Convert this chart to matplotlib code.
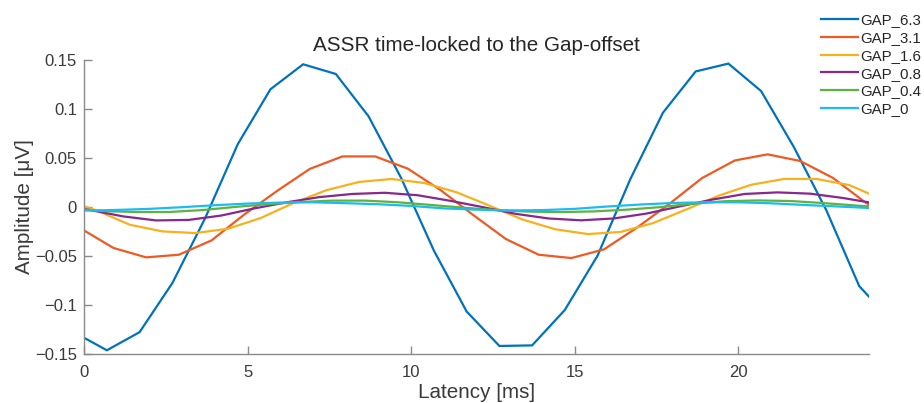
import numpy as np
import matplotlib
matplotlib.use("Agg")
import matplotlib.pyplot as plt

plt.rcParams['font.family'] = ['Liberation Sans', 'DejaVu Sans']

# ---- data (latency in ms, amplitude in µV) ----
labels = ["GAP_6.3", "GAP_3.1", "GAP_1.6", "GAP_0.8", "GAP_0.4", "GAP_0"]
colors = ["#0072BD", "#EE5A24", "#F7B11E", "#86288E", "#5DB246", "#1CBDEC"]

lat_63 = [0, 0.7, 1.7, 2.7, 3.7, 4.7, 5.7, 6.7, 7.7, 8.7, 9.7, 10.7, 11.7, 12.7,
          13.7, 14.7, 15.7, 16.7, 17.7, 18.7, 19.7, 20.7, 21.7, 22.7, 23.7, 24]
amp_63 = [-0.1337, -0.1465, -0.128, -0.078, -0.012, 0.0637, 0.1198, 0.1453, 0.1354,
          0.0922, 0.029, -0.045, -0.107, -0.1421, -0.1415, -0.1054, -0.050, 0.028,
          0.0959, 0.138, 0.146, 0.118, 0.061, -0.004, -0.081, -0.0918]

lat_31 = [0, 0.9, 1.9, 2.9, 3.9, 4.9, 5.9, 6.9, 7.9, 8.9, 9.9, 10.9, 11.9, 12.9,
          13.9, 14.9, 15.9, 16.9, 17.9, 18.9, 19.9, 20.9, 21.9, 22.9, 23.9, 24]
amp_31 = [-0.0242, -0.0421, -0.0517, -0.049, -0.0344, -0.008, 0.016, 0.0385, 0.0513,
          0.0513, 0.0388, 0.017, -0.0085, -0.033, -0.049, -0.0524, -0.0435, -0.0215,
          0.003, 0.0293, 0.0472, 0.0534, 0.0466, 0.0293, 0.004, 0.002]

lat_16 = [0, 0.4, 1.4, 2.4, 3.4, 4.4, 5.4, 6.4, 7.4, 8.4, 9.4, 10.4, 11.4, 12.4,
          13.4, 14.4, 15.4, 16.4, 17.4, 18.4, 19.4, 20.4, 21.4, 22.4, 23.4, 24]
amp_16 = [0.0005, -0.004, -0.0184, -0.0252, -0.0269, -0.0225, -0.0116, 0.0037, 0.0167,
          0.0252, 0.0283, 0.0242, 0.0146, 0.001, -0.013, -0.023, -0.0279, -0.0258,
          -0.0167, -0.003, 0.0112, 0.0224, 0.0283, 0.0283, 0.022, 0.0133]

lat_08 = [0, 0.2, 1.2, 2.2, 3.2, 4.2, 5.2, 6.2, 7.2, 8.2, 9.2, 10.2, 11.2, 12.2,
          13.2, 14.2, 15.2, 16.2, 17.2, 18.2, 19.2, 20.2, 21.2, 22.2, 23.2, 24]
amp_08 = [-0.0023, -0.0035, -0.0099, -0.014, -0.0135, -0.009, -0.0018, 0.0045, 0.0098,
          0.013, 0.0142, 0.0117, 0.006, -0.0005, -0.0073, -0.012, -0.0139, -0.012,
          -0.007, 0.0002, 0.0072, 0.013, 0.0146, 0.0133, 0.0089, 0.0044]

lat_04 = [0, 0.6, 1.6, 2.6, 3.6, 4.6, 5.6, 6.6, 7.6, 8.6, 9.6, 10.6, 11.6, 12.6,
          13.6, 14.6, 15.6, 16.6, 17.6, 18.6, 19.6, 20.6, 21.6, 22.6, 23.6, 24]
amp_04 = [-0.003, -0.0045, -0.0054, -0.0054, -0.0035, -0.0003, 0.0025, 0.0048, 0.0062,
          0.0062, 0.0045, 0.0018, -0.001, -0.0035, -0.005, -0.0055, -0.0048, -0.003,
          -0.0005, 0.003, 0.0056, 0.0064, 0.0058, 0.0037, 0.0012, 0.0003]

lat_0 = [0, 1, 2, 3, 4, 5, 6, 7, 8, 9, 10, 11, 12, 13, 14, 15, 16, 17, 18, 19,
         20, 21, 22, 23, 24]
amp_0 = [-0.004, -0.0033, -0.0022, -0.0005, 0.0015, 0.0032, 0.0042, 0.0045, 0.0036,
         0.0025, 0.0008, -0.0017, -0.003, -0.0038, -0.0035, -0.0022, 0.0002, 0.0022,
         0.0038, 0.0045, 0.0045, 0.0035, 0.0018, 0.0003, -0.0013]

series = [(lat_63, amp_63), (lat_31, amp_31), (lat_16, amp_16),
          (lat_08, amp_08), (lat_04, amp_04), (lat_0, amp_0)]

xticks = [0, 5, 10, 15, 20]
yticks = [-0.15, -0.1, -0.05, 0, 0.05, 0.1, 0.15]
ytick_labels = ["\u22120.15", "\u22120.1", "\u22120.05", "0", "0.05", "0.1", "0.15"]

# ---- figure ----
fig = plt.figure(figsize=(9.24, 4.03), dpi=100)
ax = fig.add_axes([0.0909, 0.1223, 0.9405 - 0.0909, 0.8519 - 0.1223])

for (x, y), lab, c in zip(series, labels, colors):
    ax.plot(x, y, color=c, lw=1.6, label=lab, solid_joinstyle='miter')

ax.set_xlim(0, 24)
ax.set_ylim(-0.15, 0.15)
ax.set_xticks(xticks)
ax.set_xticklabels([str(t) for t in xticks])
ax.set_yticks(yticks)
ax.set_yticklabels(ytick_labels)

txt = '#262626'
spine_c = '#8a8a8a'
for s in ['top', 'right']:
    ax.spines[s].set_visible(False)
for s in ['left', 'bottom']:
    ax.spines[s].set_color(spine_c)
    ax.spines[s].set_linewidth(1.0)
ax.tick_params(axis='both', direction='in', length=6, width=1.0, color=spine_c,
               labelcolor='#3a3a3a', labelsize=12)
ax.tick_params(axis='y', pad=5)
ax.tick_params(axis='x', pad=8)

ax.set_title("ASSR time-locked to the Gap-offset", fontsize=14.9, color=txt, pad=6)
ax.set_xlabel("Latency [ms]", fontsize=14.9, color='#3a3a3a', labelpad=2)
ax.set_ylabel("Amplitude [\u03bcV]", fontsize=14.9, color='#3a3a3a', labelpad=1)

leg = ax.legend(loc='upper left', bbox_to_anchor=(821 / 924, 1 - 13.5 / 403),
                bbox_transform=fig.transFigure, frameon=False, fontsize=10.8,
                handlelength=2.45, handletextpad=0.15, labelspacing=0.245,
                borderpad=0, borderaxespad=0)
for t in leg.get_texts():
    t.set_color(txt)

fig.savefig("out.png", dpi=100)
